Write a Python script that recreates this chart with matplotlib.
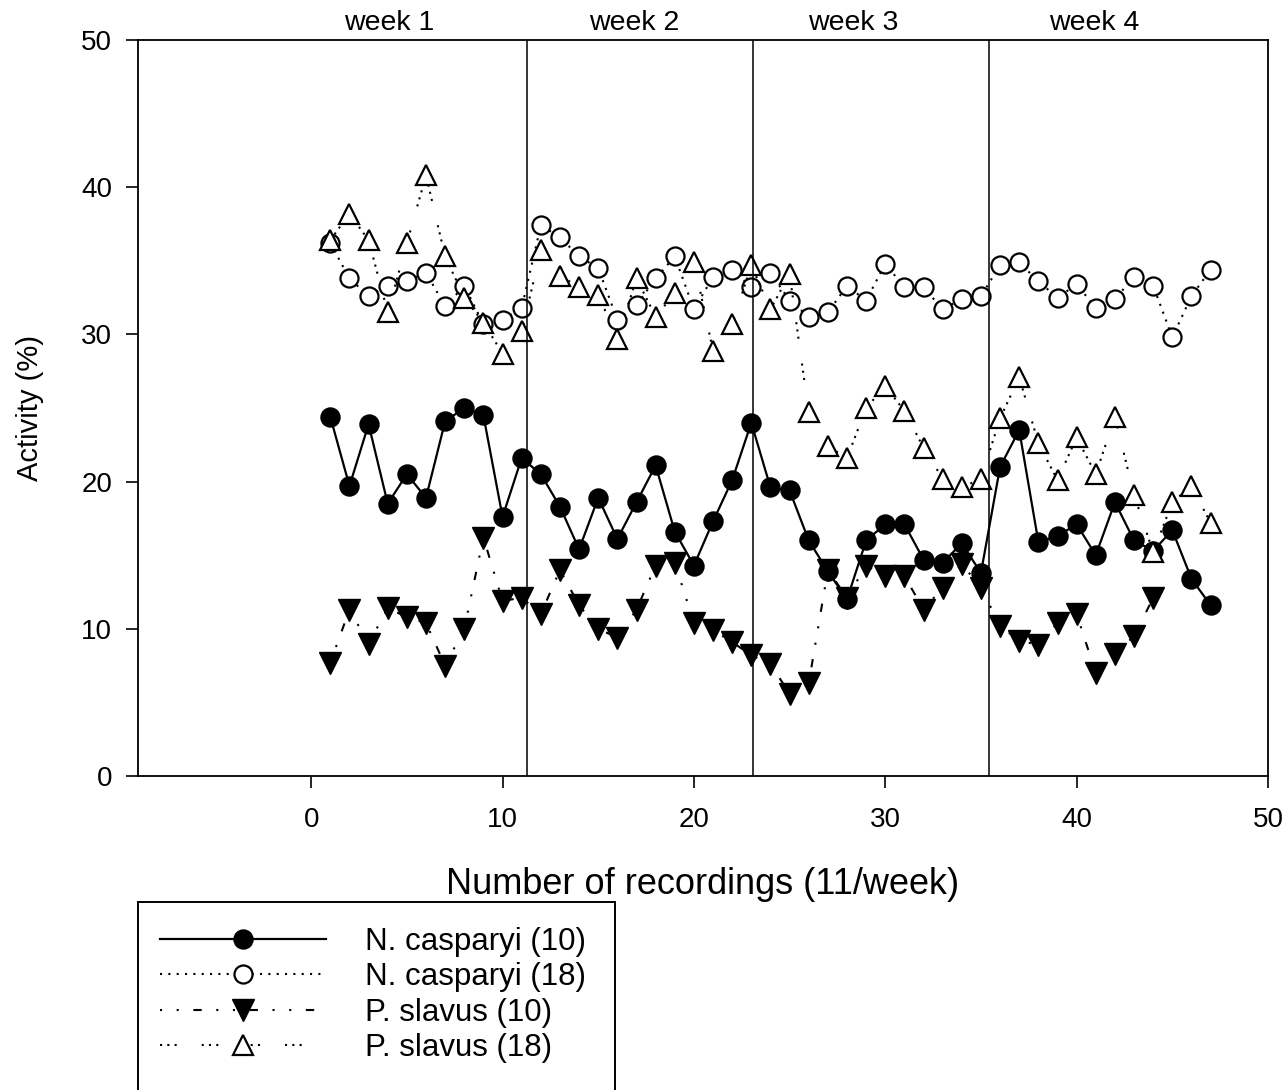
import matplotlib
matplotlib.use("Agg")
import matplotlib.pyplot as plt
from matplotlib.patches import Rectangle

plt.rcParams['font.family'] = ['Liberation Sans', 'DejaVu Sans']

# recordings (11 per week)
recordings = list(range(1, 48))

ncasp_10 = [24.4, 19.7, 23.9, 18.5, 20.5, 18.9, 24.1, 25.0, 24.5, 17.6,
            21.6, 20.5, 18.3, 15.4, 18.9, 16.1, 18.6, 21.1, 16.6, 14.3,
            17.3, 20.1, 24.0, 19.6, 19.4, 16.0, 13.9, 12.0, 16.0, 17.1,
            17.1, 14.7, 14.5, 15.8, 13.8, 21.0, 23.5, 15.9, 16.3, 17.1,
            15.0, 18.6, 16.0, 15.3, 16.7, 13.4, 11.6]

ncasp_18 = [36.2, 33.8, 32.6, 33.3, 33.6, 34.2, 31.9, 33.3, 30.7, 31.0,
            31.8, 37.4, 36.6, 35.3, 34.5, 31.0, 32.0, 33.8, 35.3, 31.7,
            33.9, 34.4, 33.2, 34.2, 32.3, 31.2, 31.5, 33.3, 32.3, 34.8,
            33.2, 33.2, 31.7, 32.4, 32.6, 34.7, 34.9, 33.6, 32.5, 33.4,
            31.8, 32.4, 33.9, 33.3, 29.8, 32.6, 34.4]

pslav_10 = [7.7, 11.3, 9.0, 11.4, 10.8, 10.4, 7.5, 10.0, 16.2, 11.9,
            12.1, 11.0, 14.0, 11.6, 10.0, 9.4, 11.3, 14.3, 14.5, 10.4,
            9.9, 9.1, 8.2, 7.6, 5.6, 6.3, 14.0, 12.1, 14.3, 13.6,
            13.6, 11.3, 12.8, 14.4, 12.8, 10.2, 9.2, 8.9, 10.4, 11.0,
            7.0, 8.3, 9.5, 12.1]

pslav_18 = [36.4, 38.2, 36.4, 31.5, 36.2, 40.8, 35.3, 32.5, 30.8, 28.7,
            30.2, 35.7, 34.0, 33.2, 32.7, 29.7, 33.8, 31.2, 32.8, 34.9,
            28.9, 30.7, 34.7, 31.7, 34.1, 24.7, 22.4, 21.6, 25.0, 26.5,
            24.8, 22.3, 20.2, 19.6, 20.2, 24.3, 27.1, 22.6, 20.1, 23.0,
            20.5, 24.4, 19.1, 15.2, 18.6, 19.7, 17.2]

series_labels = ["N. casparyi (10)", "N. casparyi (18)", "P. slavus (10)", "P. slavus (18)"]

week_bounds = [11.3, 23.1, 35.4]
week_labels = ["week 1", "week 2", "week 3", "week 4"]
week_label_x = [4.1, 16.9, 28.3, 40.9]

x_ticks = [0, 10, 20, 30, 40, 50]
y_ticks = [0, 10, 20, 30, 40, 50]

W, H = 1287, 1090
fig = plt.figure(figsize=(W / 100, H / 100), dpi=100)
ax = fig.add_axes([138 / W, 1 - 776 / H, 1130 / W, 736 / H])

l1, = ax.plot(recordings, ncasp_10, color='black', lw=1.6, ls='-',
              marker='o', ms=13.5, mfc='black', mec='black', mew=1.2)
l2, = ax.plot(recordings, ncasp_18, color='black', lw=1.5, ls=(0, (1, 3)),
              marker='o', ms=13, mfc='white', mec='black', mew=1.6)
l3, = ax.plot(recordings[:len(pslav_10)], pslav_10, color='black', lw=1.5,
              ls=(0, (1, 7, 1, 7, 4, 7)),
              marker='v', ms=15.5, mfc='black', mec='black', mew=1.0)
l4, = ax.plot(recordings, pslav_18, color='black', lw=1.5,
              ls=(0, (1, 2.5, 1, 2.5, 1, 12)),
              marker='^', ms=15, mfc='white', mec='black', mew=1.6)

for xb in week_bounds:
    ax.axvline(xb, color='black', lw=1.1)

for lab, xl in zip(week_labels, week_label_x):
    ax.text(xl, 50.3, lab, ha='center', va='bottom', fontsize=20.5)

ax.set_xlim(-9.05, 50)
ax.set_ylim(0, 50)
ax.set_xticks(x_ticks)
ax.set_yticks(y_ticks)
ax.tick_params(direction='out', length=8.5, width=1.2, labelsize=20)
ax.tick_params(axis='x', pad=14)
ax.tick_params(axis='y', pad=10)
for s in ax.spines.values():
    s.set_linewidth(1.3)

fig.text(30 / W, 1 - 408 / H, "Activity (%)", rotation=90, ha='center',
         va='center', fontsize=21)
fig.text(703 / W, 1 - 884 / H, "Number of recordings (11/week)", ha='center',
         va='center', fontsize=26)

leg = ax.legend([l1, l2, l3, l4], series_labels, loc='upper left',
                bbox_to_anchor=(160 / W, 1 - 927 / H),
                bbox_transform=fig.transFigure, frameon=False, fontsize=22.5,
                handlelength=5.3, handletextpad=1.25, labelspacing=0.17,
                borderaxespad=0, borderpad=0, numpoints=1)

fig.patches.append(Rectangle((138 / W, -0.01), (615 - 138) / W, 1 - 902 / H + 0.01,
                             transform=fig.transFigure, fill=False,
                             edgecolor='black', lw=1.4))

fig.savefig("out.png", dpi=100)
